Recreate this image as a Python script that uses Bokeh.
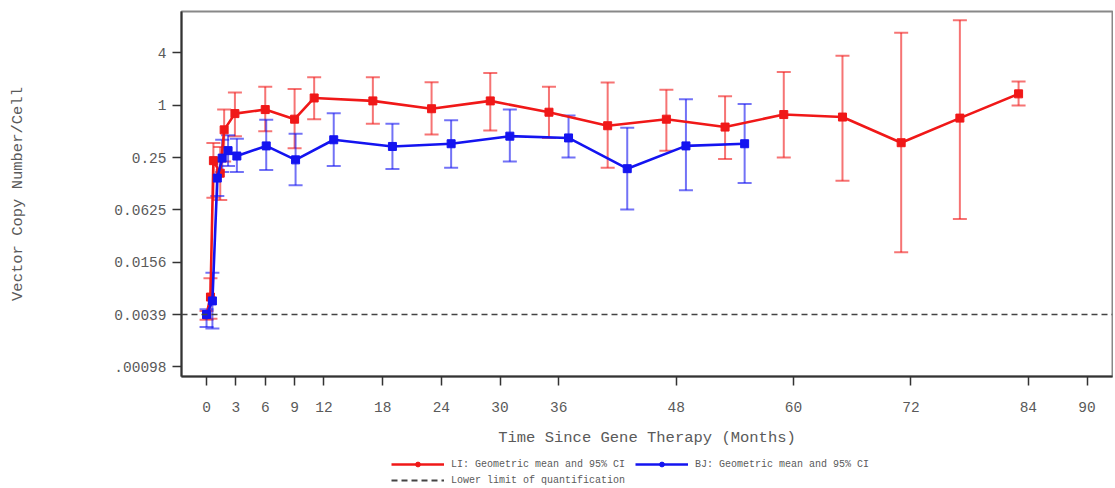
from bokeh.plotting import figure
from bokeh.layouts import column
from bokeh.models import (ColumnDataSource, Whisker, TeeHead, Span, FixedTicker,
                          Legend, LegendItem, Range1d)
from bokeh.embed import file_html
from bokeh.resources import INLINE

# ---------------- data ----------------
li_month = [0, 0.4, 0.7, 1.4, 1.8, 2.9, 6, 9, 11, 17, 23, 29, 35, 41, 47, 53, 59, 65, 71, 77, 83]
li_mean = [0.0039, 0.0062, 0.23, 0.165, 0.52, 0.80, 0.89, 0.69, 1.21, 1.12, 0.91, 1.12, 0.83,
           0.58, 0.69, 0.56, 0.78, 0.73, 0.37, 0.71, 1.35]
li_lower = [0.0034, 0.0035, 0.086, 0.081, 0.225, 0.44, 0.50, 0.32, 0.69, 0.61, 0.46, 0.51, 0.42,
            0.19, 0.30, 0.24, 0.25, 0.135, 0.0203, 0.049, 0.99]
li_upper = [0.0043, 0.0102, 0.366, 0.33, 0.89, 1.40, 1.63, 1.54, 2.10, 2.10, 1.83, 2.35, 1.63,
            1.82, 1.50, 1.27, 2.41, 3.7, 6.8, 9.5, 1.87]

bj_month = [0, 0.6, 1.1, 1.6, 2.2, 3.1, 6.1, 9.1, 13, 19, 25, 31, 37, 43, 49, 55]
bj_mean = [0.0039, 0.0056, 0.145, 0.246, 0.30, 0.26, 0.34, 0.235, 0.40, 0.335, 0.36, 0.44, 0.42,
           0.186, 0.34, 0.36]
bj_lower = [0.0028, 0.0027, 0.09, 0.17, 0.20, 0.17, 0.18, 0.12, 0.20, 0.185, 0.19, 0.225, 0.25,
            0.063, 0.105, 0.127]
bj_upper = [0.0045, 0.0118, 0.25, 0.40, 0.45, 0.41, 0.68, 0.47, 0.81, 0.61, 0.67, 0.89, 0.76,
            0.55, 1.17, 1.03]

lloq = 0.00390625

x_ticks = [0, 3, 6, 9, 12, 18, 24, 30, 36, 48, 60, 72, 84, 90]
y_ticks = [0.0009765625, 0.00390625, 0.015625, 0.0625, 0.25, 1, 4]
y_tick_labels = [".00098", "0.0039", "0.0156", "0.0625", "0.25", "1", "4"]

legend_labels = ["LI: Geometric mean and 95% CI", "BJ: Geometric mean and 95% CI",
                 "Lower limit of quantification"]

RED = "#f01818"
BLUE = "#1414f0"
FONT = "Liberation Mono"
TXT = "#5a5a5a"

p = figure(frame_width=931, frame_height=365, y_axis_type="log",
           x_range=Range1d(-2.56, 92.6), y_range=Range1d(0.000756, 11.96),
           output_backend="svg", toolbar_location=None,
           min_border_left=181, min_border_top=11, min_border_right=1, min_border_bottom=0)

p.xgrid.visible = False
p.ygrid.visible = False
p.outline_line_color = "#888888"
p.outline_line_width = 2
p.background_fill_color = "white"
p.border_fill_color = "white"

# LLOQ line
p.add_layout(Span(location=lloq, dimension="width", line_color="#444444",
                  line_dash="6 4", line_width=1.6))

li_src = ColumnDataSource(dict(x=li_month, y=li_mean, lo=li_lower, hi=li_upper))
bj_src = ColumnDataSource(dict(x=bj_month, y=bj_mean, lo=bj_lower, hi=bj_upper))

for src, col in [(li_src, RED), (bj_src, BLUE)]:
    w = Whisker(source=src, base="x", lower="lo", upper="hi",
                line_color=col, line_alpha=0.6, line_width=2,
                upper_head=TeeHead(size=14, line_color=col, line_alpha=0.6, line_width=2),
                lower_head=TeeHead(size=14, line_color=col, line_alpha=0.6, line_width=2))
    p.add_layout(w)

p.line("x", "y", source=li_src, line_color=RED, line_width=2.6)
p.scatter("x", "y", source=li_src, marker="square", size=8, color=RED)
p.line("x", "y", source=bj_src, line_color=BLUE, line_width=2.6)
p.scatter("x", "y", source=bj_src, marker="square", size=8, color=BLUE)

# axes
p.xaxis.ticker = FixedTicker(ticks=x_ticks)
p.yaxis.ticker = FixedTicker(ticks=y_ticks)
p.yaxis.major_label_overrides = {v: s for v, s in zip(y_ticks, y_tick_labels)}
p.xaxis.axis_label = "Time Since Gene Therapy (Months)"
p.yaxis.axis_label = "Vector Copy Number/Cell"
for ax in (p.xaxis[0], p.yaxis[0]):
    ax.axis_line_color = "#333333"
    ax.axis_line_width = 2
    ax.major_tick_line_color = "#333333"
    ax.major_tick_line_width = 1.5
    ax.major_tick_in = 0
    ax.major_tick_out = 9
    ax.minor_tick_line_color = None
    ax.major_label_text_font = FONT
    ax.major_label_text_font_size = "14.5px"
    ax.major_label_text_color = TXT
    ax.axis_label_text_font = FONT
    ax.axis_label_text_font_size = "15.5px"
    ax.axis_label_text_font_style = "normal"
    ax.axis_label_text_color = TXT
p.xaxis.major_label_standoff = 16
p.xaxis.axis_label_standoff = 14
p.yaxis.major_label_standoff = 6
p.yaxis.axis_label_standoff = 84

# ---------------- legend strip (separate figure below) ----------------
lf = figure(frame_width=1113, frame_height=39, x_range=Range1d(-10, -9), y_range=Range1d(-10, -9),
            output_backend="svg", toolbar_location=None, min_border=0,
            x_axis_location=None, y_axis_location=None)
lf.xgrid.visible = False
lf.ygrid.visible = False
lf.outline_line_color = None
lf.background_fill_color = "white"
lf.border_fill_color = "white"

k_li_line = lf.line(li_month, li_mean, line_color=RED, line_width=2.6)
k_li_pts = lf.scatter(li_month, li_mean, marker="circle", size=9, color=RED)
k_bj_line = lf.line(bj_month, bj_mean, line_color=BLUE, line_width=2.6)
k_bj_pts = lf.scatter(bj_month, bj_mean, marker="circle", size=9, color=BLUE)
k_lloq = lf.line([x_ticks[0], x_ticks[-1]], [lloq, lloq], line_color="#444444",
                 line_dash="6 4", line_width=2)

common = dict(label_text_font=FONT, label_text_font_size="10px", label_text_color=TXT,
              glyph_width=53, glyph_height=12, label_height=12, label_standoff=7,
              spacing=10, padding=2, margin=0, border_line_alpha=0,
              background_fill_alpha=0, orientation="horizontal")
legend1 = Legend(items=[LegendItem(label=legend_labels[0], renderers=[k_li_line, k_li_pts]),
                        LegendItem(label=legend_labels[1], renderers=[k_bj_line, k_bj_pts])],
                 location=(389, 16), **common)
legend2 = Legend(items=[LegendItem(label=legend_labels[2], renderers=[k_lloq])],
                 location=(389, 0), **common)
lf.add_layout(legend1)
lf.add_layout(legend2)

layout = column(p, lf, spacing=0)
open("out.html", "w").write(file_html(layout, INLINE))
